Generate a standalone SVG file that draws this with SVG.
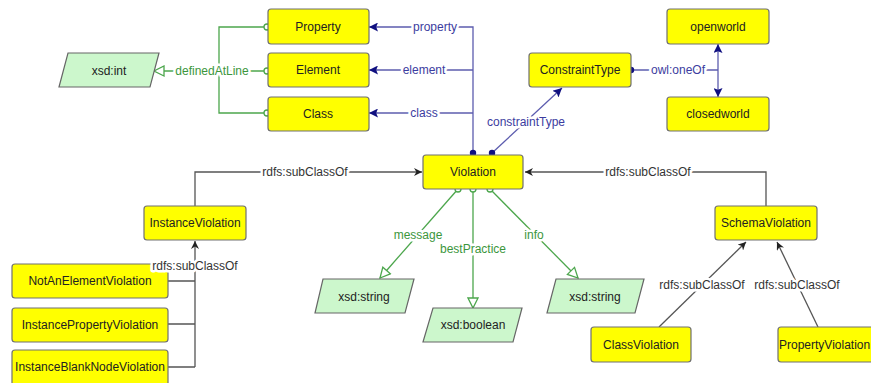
<svg xmlns="http://www.w3.org/2000/svg" width="871" height="383" viewBox="0 0 871 383">
<style>
.node rect{fill:#ffff00;stroke:#707070;stroke-width:1.2}
.dt polygon{fill:#ccf7cc;stroke:#666;stroke-width:1.2}
text{font-family:"Liberation Sans",Arial,sans-serif;font-size:12px}
.nt{fill:#222;text-anchor:middle}
.g{stroke:#4ca64c;stroke-width:1.3;fill:none}
.b{stroke:#5c5cae;stroke-width:1.3;fill:none}
.k{stroke:#555;stroke-width:1.3;fill:none}
.lbl{text-anchor:middle;paint-order:stroke;stroke:#fff;stroke-width:5px;stroke-linejoin:round}
.gl{fill:#3c963c}
.bl{fill:#3c3ca0}
.kl{fill:#333}
</style>
<defs>
<marker id="ak" viewBox="0 0 10 10" refX="10" refY="5" markerWidth="9" markerHeight="8" orient="auto-start-reverse" markerUnits="userSpaceOnUse"><path d="M0,0 L10,5 L0,10 L3,5 z" fill="#222"/></marker>
<marker id="ab" viewBox="0 0 10 10" refX="10" refY="5" markerWidth="10" markerHeight="9" orient="auto-start-reverse" markerUnits="userSpaceOnUse"><path d="M0,0 L10,5 L0,10 L2,5 z" fill="#101080"/></marker>
<marker id="ag" viewBox="0 0 12 12" refX="11" refY="6" markerWidth="14" markerHeight="12" orient="auto" markerUnits="userSpaceOnUse"><path d="M1,1 L11,6 L1,11 z" fill="#fff" stroke="#4ca64c" stroke-width="1.3"/></marker>
</defs>
<g id="connectors">
<path class="g" d="M267,27 H219 V113 H267"/>
<path class="g" d="M267,71 H154" marker-end="url(#ag)"/>
<path class="g" d="M458,189 L380,278" marker-end="url(#ag)"/>
<path class="g" d="M473,189 V308" marker-end="url(#ag)"/>
<path class="g" d="M490,189 L578,278" marker-end="url(#ag)"/>
<circle cx="267" cy="27" r="3" fill="#fff" stroke="#4ca64c" stroke-width="1.3"/>
<circle cx="267" cy="71" r="3" fill="#fff" stroke="#4ca64c" stroke-width="1.3"/>
<circle cx="267" cy="113" r="3" fill="#fff" stroke="#4ca64c" stroke-width="1.3"/>
<circle cx="458" cy="189" r="3" fill="#fff" stroke="#4ca64c" stroke-width="1.3"/>
<circle cx="473" cy="189" r="3" fill="#fff" stroke="#4ca64c" stroke-width="1.3"/>
<circle cx="490" cy="189" r="3" fill="#fff" stroke="#4ca64c" stroke-width="1.3"/>
<path class="b" d="M473,153 V27 H369" marker-end="url(#ab)"/>
<path class="b" d="M473,70 H369" marker-end="url(#ab)"/>
<path class="b" d="M473,113 H369" marker-end="url(#ab)"/>
<path class="b" d="M492,153 L562,88" marker-end="url(#ab)"/>
<path class="b" d="M631,70 H718"/>
<path class="b" d="M718,44 V97" marker-start="url(#ab)" marker-end="url(#ab)"/>
<circle cx="473" cy="153" r="3.2" fill="#101080"/>
<circle cx="492" cy="153" r="3.2" fill="#101080"/>
<circle cx="631" cy="70" r="3.2" fill="#101080"/>
<path class="k" d="M195,206 V172 H422" marker-end="url(#ak)"/>
<path class="k" d="M766,206 V172 H525" marker-end="url(#ak)"/>
<path class="k" d="M659,327 L746,242" marker-end="url(#ak)"/>
<path class="k" d="M818,327 L777,242" marker-end="url(#ak)"/>
<path class="k" d="M168,281 H195 M168,324 H195 M168,367 H195 M195,367 V241" marker-end="url(#ak)"/>
<text class="lbl gl" x="212" y="75">definedAtLine</text>
<text class="lbl gl" x="418" y="239">message</text>
<text class="lbl gl" x="473" y="253">bestPractice</text>
<text class="lbl gl" x="534" y="239">info</text>
<text class="lbl bl" x="435" y="31">property</text>
<text class="lbl bl" x="424" y="74">element</text>
<text class="lbl bl" x="424" y="117">class</text>
<text class="lbl bl" x="526" y="126">constraintType</text>
<text class="lbl bl" x="678" y="74">owl:oneOf</text>
<text class="lbl kl" x="305" y="176">rdfs:subClassOf</text>
<text class="lbl kl" x="648" y="176">rdfs:subClassOf</text>
<text class="lbl kl" x="702" y="289">rdfs:subClassOf</text>
<text class="lbl kl" x="797" y="289">rdfs:subClassOf</text>
</g>
<g id="xsd-int" class="dt"><polygon points="68,53 159,53 150,87 59,87"/><text class="nt" x="109" y="75">xsd:int</text></g>
<g id="xsd-string-1" class="dt"><polygon points="323,279 414,279 405,313 315,313"/><text class="nt" x="364" y="301">xsd:string</text></g>
<g id="xsd-boolean" class="dt"><polygon points="433,308 522,308 513,342 423,342"/><text class="nt" x="473" y="329">xsd:boolean</text></g>
<g id="xsd-string-2" class="dt"><polygon points="556,279 644,279 635,313 547,313"/><text class="nt" x="595" y="301">xsd:string</text></g>
<g id="Property" class="node"><rect x="268" y="9" width="101" height="35" rx="3"/><text class="nt" x="318" y="31">Property</text></g>
<g id="Element" class="node"><rect x="268" y="53" width="101" height="34" rx="3"/><text class="nt" x="318" y="74">Element</text></g>
<g id="Class" class="node"><rect x="268" y="97" width="101" height="34" rx="3"/><text class="nt" x="318" y="118">Class</text></g>
<g id="ConstraintType" class="node"><rect x="529" y="53" width="102" height="34" rx="3"/><text class="nt" x="580" y="74">ConstraintType</text></g>
<g id="openworld" class="node"><rect x="667" y="9" width="102" height="35" rx="3"/><text class="nt" x="718" y="31">openworld</text></g>
<g id="closedworld" class="node"><rect x="667" y="97" width="102" height="34" rx="3"/><text class="nt" x="718" y="118">closedworld</text></g>
<g id="Violation" class="node"><rect x="423" y="155" width="100" height="34" rx="3"/><text class="nt" x="473" y="176">Violation</text></g>
<g id="InstanceViolation" class="node"><rect x="144" y="206" width="102" height="34" rx="3"/><text class="nt" x="195" y="227">InstanceViolation</text></g>
<g id="SchemaViolation" class="node"><rect x="715" y="206" width="102" height="34" rx="3"/><text class="nt" x="766" y="227">SchemaViolation</text></g>
<g id="NotAnElementViolation" class="node"><rect x="12" y="264" width="156" height="34" rx="3"/><text class="nt" x="90" y="285">NotAnElementViolation</text></g>
<g id="InstancePropertyViolation" class="node"><rect x="12" y="308" width="156" height="34" rx="3"/><text class="nt" x="90" y="329">InstancePropertyViolation</text></g>
<g id="InstanceBlankNodeViolation" class="node"><rect x="12" y="350" width="156" height="38" rx="3"/><text class="nt" x="90" y="371">InstanceBlankNodeViolation</text></g>
<g id="ClassViolation" class="node"><rect x="591" y="327" width="100" height="35" rx="3"/><text class="nt" x="641" y="349">ClassViolation</text></g>
<g id="PropertyViolation" class="node"><rect x="778" y="327" width="100" height="35" rx="3"/><text x="779" y="349" fill="#222">PropertyViolation</text></g>
<text class="lbl kl" x="195" y="270">rdfs:subClassOf</text>
</svg>
